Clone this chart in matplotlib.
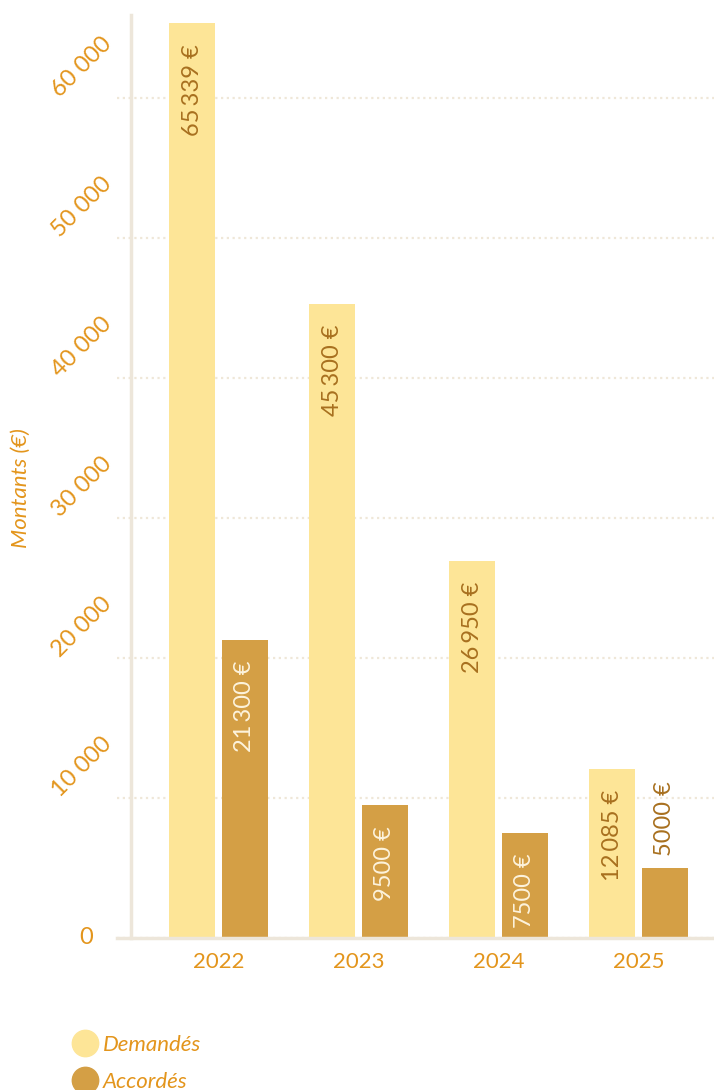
import matplotlib
matplotlib.use("Agg")
import matplotlib.pyplot as plt
import matplotlib.transforms as mtransforms
from matplotlib.lines import Line2D
import numpy as np

plt.rcParams["font.family"] = ["Lato", "DejaVu Sans"]

# data
years = ["2022", "2023", "2024", "2025"]
demandes = [65339, 45300, 26950, 12085]
accordes = [21300, 9500, 7500, 5000]
y_ticks = [0, 10000, 20000, 30000, 40000, 50000, 60000]

# colours
col_dem = "#fde597"
col_acc = "#d49f45"
col_orange = "#e3951c"
col_dark = "#a8701f"
col_light = "#fdf3dc"
col_line = "#ede6da"
col_grid = "#efe7d8"


def fmt(v, sep):
    if v >= 10000:
        return f"{v:,}".replace(",", sep)
    return str(v)


fig = plt.figure(figsize=(7.14, 10.9), dpi=100)
ax = fig.add_axes([117 / 714, 1 - 938 / 1090, 597 / 714, 923 / 1090])

x = np.arange(len(years))
w = 0.329
off = 0.189
b1 = ax.bar(x - off, demandes, w, color=col_dem, zorder=2)
b2 = ax.bar(x + off, accordes, w, color=col_acc, zorder=2)

ax.set_xlim(-0.725, 3.539)
ax.set_ylim(0, 65930)

# value labels
lab_kw = dict(rotation=90, ha="center", fontsize=17, textcoords="offset points", zorder=3)
for rect, v in zip(b1, demandes):
    ax.annotate(fmt(v, "\u2009") + " €", (rect.get_x() + rect.get_width() / 2, v),
                xytext=(0, -15), va="top", color=col_dark, **lab_kw)
for rect, v in zip(b2, accordes):
    cx = rect.get_x() + rect.get_width() / 2
    if v > 6000:
        ax.annotate(fmt(v, "\u2009") + " €", (cx, v), xytext=(0, -15),
                    va="top", color=col_light, **lab_kw)
    else:
        ax.annotate(fmt(v, "\u2009") + " €", (cx, v), xytext=(0, 9),
                    va="bottom", color=col_dark, **lab_kw)

# grid
ax.set_yticks(y_ticks)
ax.yaxis.grid(True, linestyle=(0, (1, 1.6)), color=col_grid, linewidth=1.6, zorder=0)
ax.set_axisbelow(True)

# spines
for s in ["top", "right"]:
    ax.spines[s].set_visible(False)
ax.spines["left"].set_position(("axes", 14 / 597))
ax.spines["left"].set_color(col_line)
ax.spines["left"].set_linewidth(2.5)
ax.spines["bottom"].set_color(col_line)
ax.spines["bottom"].set_linewidth(2.5)
ax.spines["bottom"].set_zorder(4)

ax.tick_params(axis="both", length=0)
ax.set_xticks(x)
ax.set_xticklabels(years, fontsize=16, color=col_orange)
ax.tick_params(axis="x", pad=10)

ax.set_yticklabels([fmt(t, " ") for t in y_ticks], fontsize=17, color=col_orange)
ax.tick_params(axis="y", pad=6)
shift = mtransforms.ScaledTranslation(-7 / 100, -3 / 100, fig.dpi_scale_trans)
for lab in ax.get_yticklabels():
    if lab.get_text() == "0":
        lab.set_va("center")
        lab.set_transform(lab.get_transform() + mtransforms.ScaledTranslation(-30 / 100, 0, fig.dpi_scale_trans))
    else:
        lab.set_rotation(45)
        lab.set_ha("right")
        lab.set_va("bottom")
        lab.set_transform(lab.get_transform() + shift)

ax.set_ylabel("Montants (€)", fontsize=16, color=col_orange, style="italic")
ax.yaxis.set_label_coords(-86 / 597, 0.487)

# legend
handles = [Line2D([], [], marker="o", linestyle="", markersize=19,
                  markerfacecolor=col_dem, markeredgecolor=col_dem),
           Line2D([], [], marker="o", linestyle="", markersize=19,
                  markerfacecolor=col_acc, markeredgecolor=col_acc)]
leg = fig.legend(handles, ["Demandés", "Accordés"], loc="upper left",
                 bbox_to_anchor=(58 / 714, 1 - 1026 / 1090), frameon=False,
                 handletextpad=0.0, labelspacing=0.75, borderaxespad=0,
                 handlelength=1.6, prop={"size": 16, "style": "italic"})
for t in leg.get_texts():
    t.set_color(col_orange)

fig.savefig("out.png", dpi=100)
